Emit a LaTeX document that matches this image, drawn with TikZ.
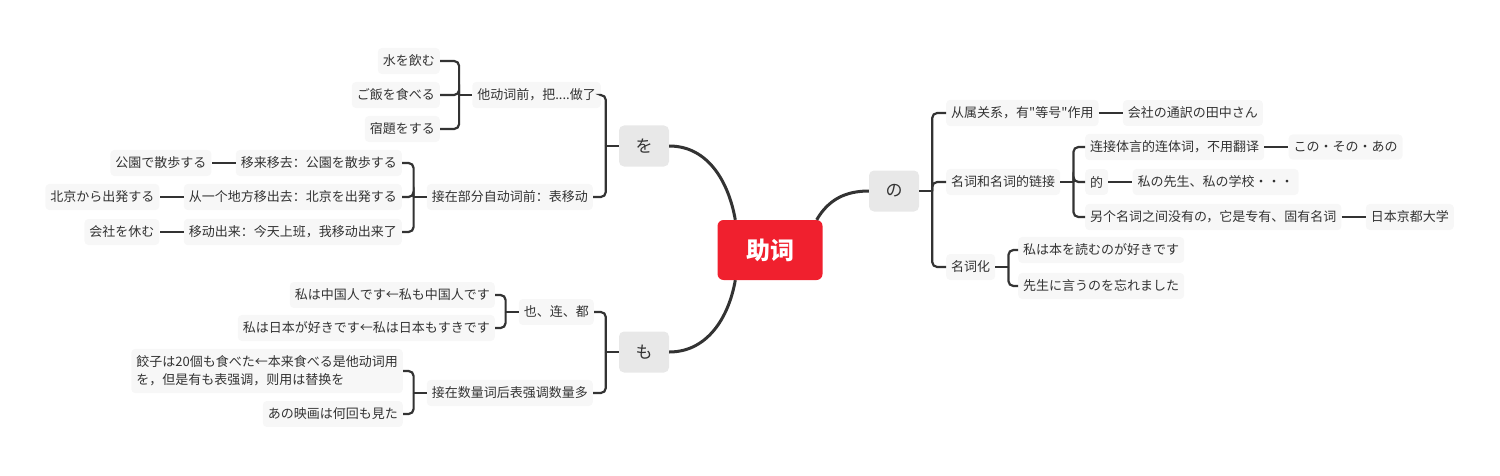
\documentclass[tikz,border=0pt]{standalone}
\usepackage{fontspec}
\setmainfont{Noto Sans CJK SC}[Ligatures=TeXOff]
\usepackage{xcolor}
\usetikzlibrary{positioning}
\definecolor{mmred}{HTML}{F0202E}
\definecolor{mmgray}{HTML}{E8E8E8}
\definecolor{mmleaf}{HTML}{F7F7F7}
\definecolor{mmink}{HTML}{333333}

\begin{document}
\begin{tikzpicture}[
    x=1pt, y=1pt,
    font=\fontsize{13}{18}\selectfont, text=mmink,
    root/.style={fill=mmred, rounded corners=6pt, minimum width=105pt, minimum height=60pt, text=white, font=\fontsize{24}{28}\selectfont\bfseries},
    topic/.style={fill=mmgray, rounded corners=5pt, minimum width=50pt, minimum height=41pt, font=\fontsize{17}{20}\selectfont},
    item/.style={fill=mmleaf, rounded corners=4pt, inner xsep=5pt, inner ysep=7pt, align=left},
    link/.style={draw=mmink, line width=2.2pt},
    fork/.style={link, rounded corners=5pt},
    node distance=24pt,
  ]
  \useasboundingbox (0,0) rectangle (1500,475);

  % centre and main topics
  \node[root] (c) at (770,225) {助词};
  \node[topic] (wo) at (644,329) {を};
  \node[topic] (mo) at (644,123) {も};
  \node[topic] (no) at (894,284) {の};

  % を
  \node[item, anchor=east] (wo1) at (601,380) {他动词前，把....做了};
  \node[item, anchor=east] (wo2) at (593,278) {接在部分自动词前：表移动};
  \node[item, anchor=east] (wo11) at (440,414) {水を飲む};
  \node[item, anchor=east] (wo12) at (440,380) {ご飯を食べる};
  \node[item, anchor=east] (wo13) at (440,346) {宿題をする};
  \node[item, anchor=east] (wo21) at (402,312) {移来移去：公園を散歩する};
  \node[item, anchor=east] (wo22) at (402,278) {从一个地方移出去：北京を出発する};
  \node[item, anchor=east] (wo23) at (402,243) {移动出来：今天上班，我移动出来了};
  \node[item, left=of wo21] (wo21a) {公園で散歩する};
  \node[item, left=of wo22] (wo22a) {北京から出発する};
  \node[item, left=of wo23] (wo23a) {会社を休む};

  % も
  \node[item, anchor=east] (mo1) at (594,163) {也、连、都};
  \node[item, anchor=east] (mo2) at (593,82) {接在数量词后表强调数量多};
  \node[item, anchor=east] (mo11) at (495,180) {私は中国人です←私も中国人です};
  \node[item, anchor=east] (mo12) at (495,147) {私は日本が好きです←私は日本もすきです};
  \node[item, anchor=east] (mo21) at (403,104) {餃子は20個も食べた←本来食べる是他动词用\\を，但是有も表强调，则用は替换を};
  \node[item, anchor=east] (mo22) at (403,61) {あの映画は何回も見た};

  % の
  \node[item, anchor=west] (no1) at (946,362) {从属关系，有"等号"作用};
  \node[item, anchor=west] (no2) at (946,293) {名词和名词的链接};
  \node[item, anchor=west] (no3) at (946,208) {名词化};
  \node[item, right=of no1] (no1a) {会社の通訳の田中さん};
  \node[item, anchor=west] (no21) at (1085,328) {连接体言的连体词，不用翻译};
  \node[item, anchor=west] (no22) at (1085,293) {的};
  \node[item, anchor=west] (no23) at (1085,258) {另个名词之间没有の，它是专有、固有名词};
  \node[item, right=of no21] (no21a) {この・その・あの};
  \node[item, right=of no22] (no22a) {私の先生、私の学校・・・};
  \node[item, right=of no23] (no23a) {日本京都大学};
  \node[item, anchor=west] (no31) at (1018,225) {私は本を読むのが好きです};
  \node[item, anchor=west] (no32) at (1018,189) {先生に言うのを忘れました};

  % curves from the centre
  \draw[link, line width=3pt] ([xshift=18pt]c.north west) to[out=100, in=0] (wo.east);
  \draw[link, line width=3pt] ([xshift=18pt]c.south west) to[out=-100, in=0] (mo.east);
  \draw[link, line width=3pt] ([xshift=-6pt]c.north east) to[out=60, in=180] (no.west);

  % forks to the left
  \foreach \p/\kids in {wo/{wo1,wo2}, wo1/{wo11,wo12,wo13}, wo2/{wo21,wo22,wo23},
                        mo/{mo1,mo2}, mo1/{mo11,mo12}, mo2/{mo21,mo22}} {
    \draw[link] (\p.west) -- ++(-13,0);
    \foreach \k in \kids
      \draw[fork] (\p.west) ++(-13,0) |- (\k.east);
  }
  % forks to the right
  \foreach \p/\kids in {no/{no1,no2,no3}, no2/{no21,no22,no23}, no3/{no31,no32}} {
    \draw[link] (\p.east) -- ++(13,0);
    \foreach \k in \kids
      \draw[fork] (\p.east) ++(13,0) |- (\k.west);
  }

  % single leaves
  \foreach \a/\b in {wo21/wo21a, wo22/wo22a, wo23/wo23a}
    \draw[link] (\a.west) -- (\b.east);
  \foreach \a/\b in {no1/no1a, no21/no21a, no22/no22a, no23/no23a}
    \draw[link] (\a.east) -- (\b.west);
\end{tikzpicture}
\end{document}
